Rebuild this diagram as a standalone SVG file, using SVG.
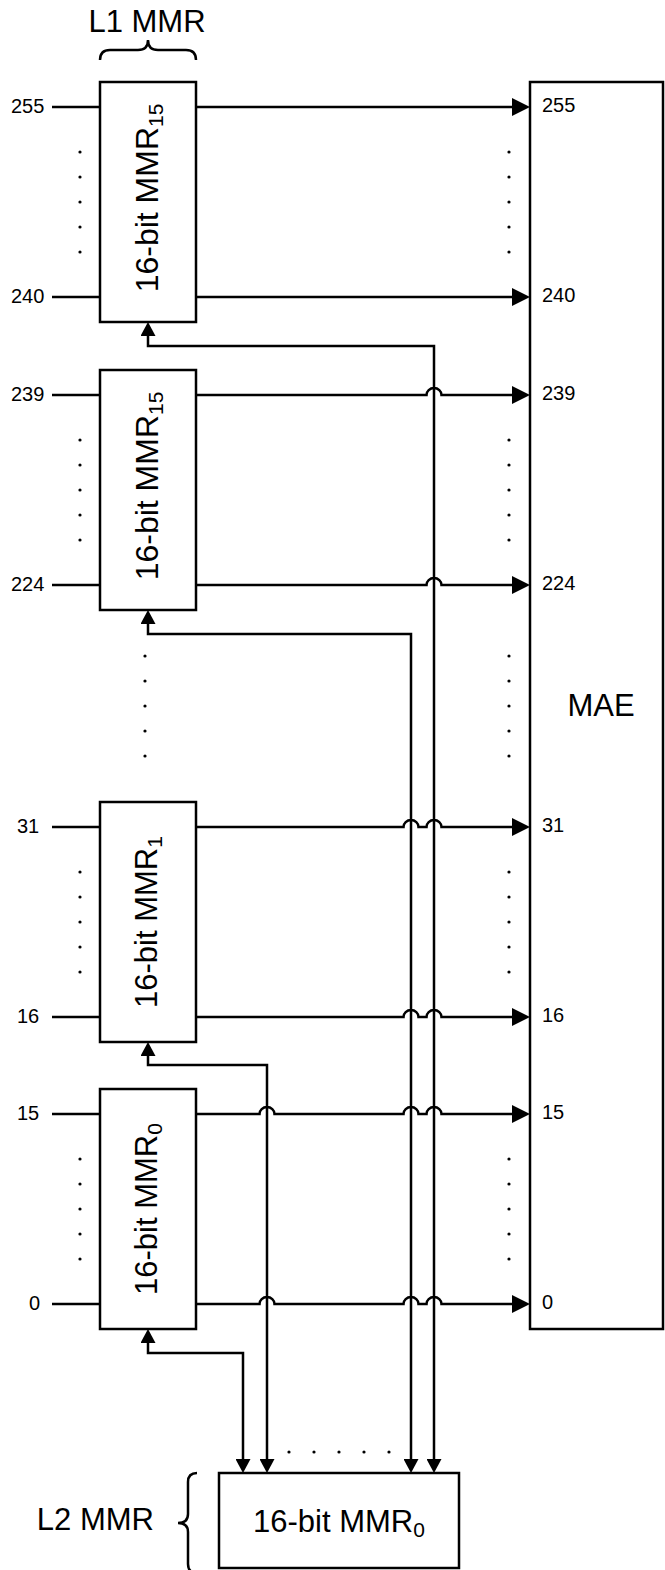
<svg xmlns="http://www.w3.org/2000/svg" width="665" height="1570" viewBox="0 0 665 1570">
<style>
.box{fill:#fff;stroke:#000;stroke-width:2.5}
.ln{fill:none;stroke:#000;stroke-width:2.5}
.big{font-family:"Liberation Sans",Arial,sans-serif;font-size:31px;fill:#000}
.big32{font-size:32px}
.num{font-family:"Liberation Sans",Arial,sans-serif;font-size:20px;fill:#000}
.sub{font-size:21px}
.dot{fill:#000}
</style>
<defs>
<marker id="oa" markerUnits="userSpaceOnUse" viewBox="0 0 18 18" markerWidth="18" markerHeight="18" refX="8" refY="9" orient="auto"><path d="M0,0 L18,9 L0,18 z" fill="#000"/></marker>
<marker id="sa" markerUnits="userSpaceOnUse" viewBox="0 0 14 15" markerWidth="14" markerHeight="15" refX="6" refY="7.5" orient="auto-start-reverse"><path d="M0,0 L14,7.5 L0,15 z" fill="#000"/></marker>
<circle id="d" r="1.6" class="dot"/>
</defs>

<g id="labels-top">
<text class="big" x="147" y="32" text-anchor="middle">L1 MMR</text>
<path class="ln" d="M100,60 Q100,50 110,50 L138,50 Q148,50 148,40 Q148,50 158,50 L186,50 Q196,50 196,60"/>
</g>

<g id="connectors">
<path class="ln" d="M52,107 H100 M52,297 H100 M52,395 H100 M52,585 H100 M52,827 H100 M52,1017 H100 M52,1114 H100 M52,1304 H100"/>
<path class="ln" marker-end="url(#oa)" d="M196,107 H520"/>
<path class="ln" marker-end="url(#oa)" d="M196,297 H520"/>
<path class="ln" marker-end="url(#oa)" d="M196,395 H426.5 A7.5,7 0 0 1 441.5,395 H520"/>
<path class="ln" marker-end="url(#oa)" d="M196,585 H426.5 A7.5,7 0 0 1 441.5,585 H520"/>
<path class="ln" marker-end="url(#oa)" d="M196,827 H403.5 A7.5,7 0 0 1 418.5,827 H426.5 A7.5,7 0 0 1 441.5,827 H520"/>
<path class="ln" marker-end="url(#oa)" d="M196,1017 H403.5 A7.5,7 0 0 1 418.5,1017 H426.5 A7.5,7 0 0 1 441.5,1017 H520"/>
<path class="ln" marker-end="url(#oa)" d="M196,1114 H259.5 A7.5,7 0 0 1 274.5,1114 H403.5 A7.5,7 0 0 1 418.5,1114 H426.5 A7.5,7 0 0 1 441.5,1114 H520"/>
<path class="ln" marker-end="url(#oa)" d="M196,1304 H259.5 A7.5,7 0 0 1 274.5,1304 H403.5 A7.5,7 0 0 1 418.5,1304 H426.5 A7.5,7 0 0 1 441.5,1304 H520"/>
<path class="ln" marker-start="url(#sa)" marker-end="url(#sa)" d="M434,1465 V346 H148 V330"/>
<path class="ln" marker-start="url(#sa)" marker-end="url(#sa)" d="M411,1465 V634 H148 V618"/>
<path class="ln" marker-start="url(#sa)" marker-end="url(#sa)" d="M267,1465 V1065 H148 V1050"/>
<path class="ln" marker-start="url(#sa)" marker-end="url(#sa)" d="M243,1465 V1353 H148 V1337"/>
</g>

<g id="input-labels" class="num">
<text x="11" y="113">255</text>
<text x="11" y="303">240</text>
<text x="11" y="401">239</text>
<text x="11" y="591">224</text>
<text x="17" y="833">31</text>
<text x="17" y="1023">16</text>
<text x="17" y="1120">15</text>
<text x="29" y="1310">0</text>
</g>

<g id="mmr15a">
<rect class="box" x="100" y="82" width="96" height="240"/>
<text class="big big32" transform="translate(158,198) rotate(-90)" text-anchor="middle">16-bit MMR<tspan class="sub" dy="5">15</tspan></text>
</g>
<g id="mmr15b">
<rect class="box" x="100" y="370" width="96" height="240"/>
<text class="big big32" transform="translate(158,486) rotate(-90)" text-anchor="middle">16-bit MMR<tspan class="sub" dy="5">15</tspan></text>
</g>
<g id="mmr1">
<rect class="box" x="100" y="802" width="96" height="240"/>
<text class="big" transform="translate(157,922) rotate(-90)" text-anchor="middle">16-bit MMR<tspan class="sub" dy="5">1</tspan></text>
</g>
<g id="mmr0">
<rect class="box" x="100" y="1089" width="96" height="240"/>
<text class="big" transform="translate(157,1209) rotate(-90)" text-anchor="middle">16-bit MMR<tspan class="sub" dy="5">0</tspan></text>
</g>

<g id="mae">
<rect class="box" x="530" y="82" width="133" height="1247"/>
<text class="big" x="601" y="716" text-anchor="middle">MAE</text>
<g class="num">
<text x="542" y="112">255</text>
<text x="542" y="302">240</text>
<text x="542" y="400">239</text>
<text x="542" y="590">224</text>
<text x="542" y="832">31</text>
<text x="542" y="1022">16</text>
<text x="542" y="1119">15</text>
<text x="542" y="1309">0</text>
</g>
</g>

<g id="l2">
<rect class="box" x="219" y="1473" width="240" height="95"/>
<text class="big" x="339" y="1532" text-anchor="middle">16-bit MMR<tspan class="sub" dy="5">0</tspan></text>
<text class="big" x="154" y="1530" text-anchor="end">L2 MMR</text>
<path class="ln" d="M197,1473 Q188,1473 188,1482 L188,1514 Q188,1523 178,1523 Q188,1523 188,1532 L188,1564 Q188,1573 197,1573"/>
</g>

<g id="dots">
<use href="#d" x="80" y="152"/><use href="#d" x="80" y="177"/><use href="#d" x="80" y="202"/><use href="#d" x="80" y="227"/><use href="#d" x="80" y="252"/>
<use href="#d" x="509" y="152"/><use href="#d" x="509" y="177"/><use href="#d" x="509" y="202"/><use href="#d" x="509" y="227"/><use href="#d" x="509" y="252"/>
<use href="#d" x="80" y="440"/><use href="#d" x="80" y="465"/><use href="#d" x="80" y="490"/><use href="#d" x="80" y="515"/><use href="#d" x="80" y="540"/>
<use href="#d" x="509" y="440"/><use href="#d" x="509" y="465"/><use href="#d" x="509" y="490"/><use href="#d" x="509" y="515"/><use href="#d" x="509" y="540"/>
<use href="#d" x="145" y="656"/><use href="#d" x="145" y="681"/><use href="#d" x="145" y="706"/><use href="#d" x="145" y="731"/><use href="#d" x="145" y="756"/>
<use href="#d" x="509" y="656"/><use href="#d" x="509" y="681"/><use href="#d" x="509" y="706"/><use href="#d" x="509" y="731"/><use href="#d" x="509" y="756"/>
<use href="#d" x="80" y="872"/><use href="#d" x="80" y="897"/><use href="#d" x="80" y="922"/><use href="#d" x="80" y="947"/><use href="#d" x="80" y="972"/>
<use href="#d" x="509" y="872"/><use href="#d" x="509" y="897"/><use href="#d" x="509" y="922"/><use href="#d" x="509" y="947"/><use href="#d" x="509" y="972"/>
<use href="#d" x="80" y="1159"/><use href="#d" x="80" y="1184"/><use href="#d" x="80" y="1209"/><use href="#d" x="80" y="1234"/><use href="#d" x="80" y="1259"/>
<use href="#d" x="509" y="1159"/><use href="#d" x="509" y="1184"/><use href="#d" x="509" y="1209"/><use href="#d" x="509" y="1234"/><use href="#d" x="509" y="1259"/>
<use href="#d" x="289" y="1452"/><use href="#d" x="314" y="1452"/><use href="#d" x="339" y="1452"/><use href="#d" x="364" y="1452"/><use href="#d" x="389" y="1452"/>
</g>
</svg>
